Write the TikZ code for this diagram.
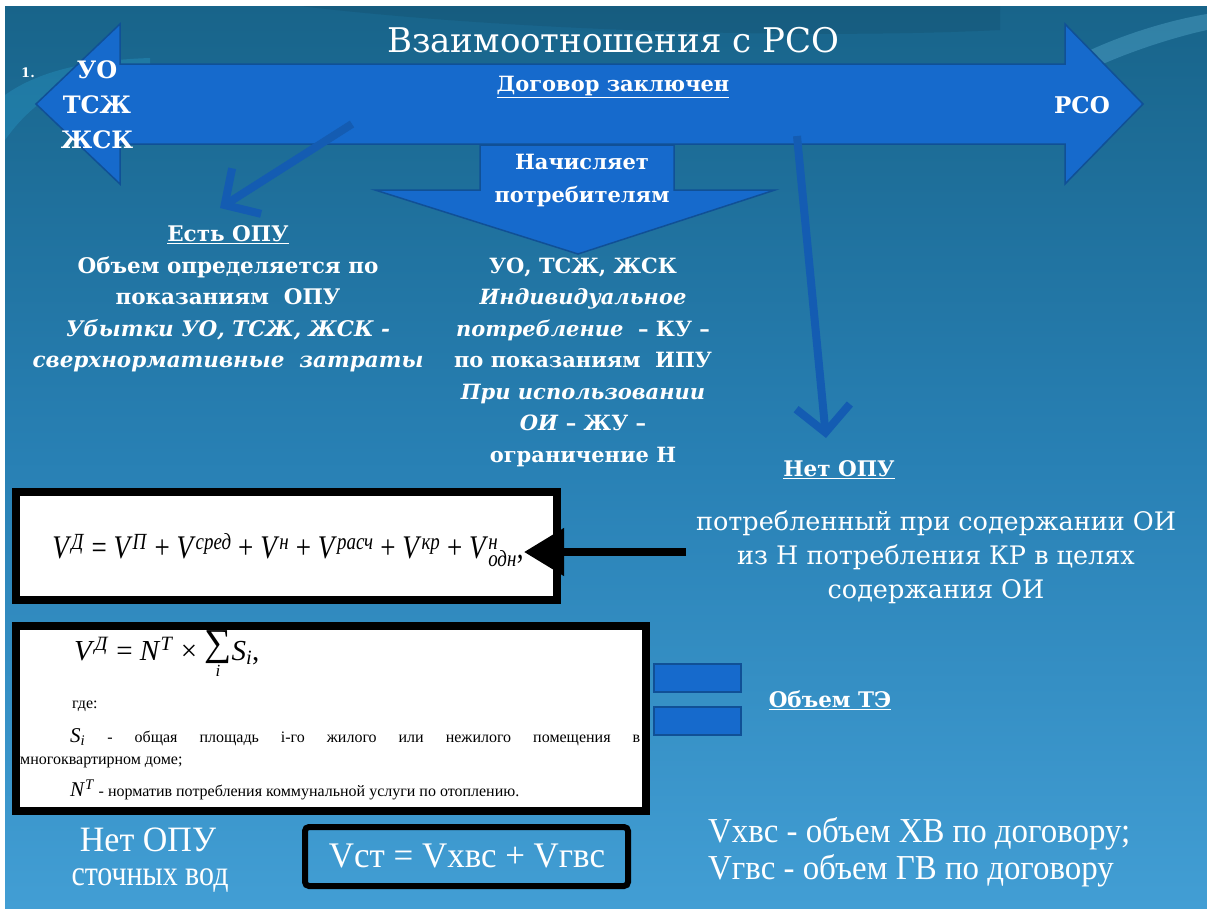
\documentclass[tikz,border=0pt]{standalone}
\usepackage{fontspec}
\usepackage{graphicx}
\setmainfont{Liberation Serif}
\newfontfamily\djv{DejaVu Serif}
\usetikzlibrary{arrows.meta}
\definecolor{bgtop}{RGB}{24,100,138}
\definecolor{bgmid}{RGB}{40,128,180}
\definecolor{bgbot}{RGB}{66,158,212}
\definecolor{arrowblue}{RGB}{22,106,204}
\definecolor{arrowedge}{RGB}{16,80,150}
\definecolor{thinblue}{RGB}{20,92,178}
\newcommand\vsup[2]{\textit{#1}\textsuperscript{\textit{#2}}}
\begin{document}
\begin{tikzpicture}[x=1pt,y=-1pt,
  bigarrow/.style={fill=arrowblue, draw=arrowedge, line width=1.5pt, line join=miter},
  thinarrow/.style={draw=thinblue, line width=8pt, -{Straight Barb[length=26pt,width=54pt]}},
  wtext/.style={text=white, align=center, inner sep=0pt},
  boldtxt/.style={wtext, font=\djv\bfseries\fontsize{21.5}{31.5}\selectfont},
  formbox/.style={draw=black, line width=8pt, fill=white},
  smallbox/.style={fill=arrowblue, draw=arrowedge, line width=1.5pt}
]
\useasboundingbox (0,0) rectangle (1207,908);
% background
\fill[white] (0,0) rectangle (1207,908);
\shade[top color=bgtop, bottom color=bgbot, middle color=bgmid] (5,6) rectangle (1207,908);
% decorative swooshes
\fill[cyan!60!teal, opacity=0.35] (5,95) .. controls (40,70) and (90,60) .. (150,58) -- (150,66) .. controls (90,70) and (40,90) .. (5,140) -- cycle;
\fill[cyan!50!white, opacity=0.25] (1080,55) .. controls (1120,35) and (1170,20) .. (1207,14) -- (1207,30) .. controls (1170,38) and (1120,55) .. (1090,70) -- cycle;
\fill[black, opacity=0.08] (300,6) .. controls (500,30) and (800,40) .. (1000,30) -- (1000,6) -- cycle;

% main double arrow
\draw[bigarrow] (36,104) -- (120,24) -- (120,64) -- (1065,64) -- (1065,24) -- (1143,104)
   -- (1065,184) -- (1065,144) -- (120,144) -- (120,184) -- cycle;
% down block arrow
\draw[bigarrow] (480,145) -- (674,145) -- (674,190) -- (775,190) -- (578,254) -- (375,190) -- (480,190) -- cycle;

% thin arrows
\coordinate (la1) at (352,124);
\coordinate (la2) at (220,208);
\coordinate (ra1) at (797,136);
\coordinate (ra2) at (826,438);
\draw[thinarrow] (la1) -- (la2);
\draw[thinarrow] (ra1) -- (ra2);

% title and arrow labels
\node[wtext, font=\djv\fontsize{34}{40}\selectfont] (title) at (613,40) {Взаимоотношения с РСО};
\node[wtext, font=\djv\bfseries\fontsize{13}{16}\selectfont] (num) at (28,73) {1.};
\node[boldtxt, font=\djv\bfseries\fontsize{24}{35}\selectfont] (left) at (97,105) {УО\\ТСЖ\\ЖСК};
\node[boldtxt, font=\djv\bfseries\fontsize{21}{24}\selectfont] (dog) at (613,87) {\underline{Договор заключен}};
\node[boldtxt, font=\djv\bfseries\fontsize{23}{28}\selectfont] (rso) at (1082,105) {РСО};
\node[boldtxt, font=\djv\bfseries\fontsize{21}{33}\selectfont] (nach) at (582,181) {Начисляет\\потребителям};

% left column
\node[boldtxt] (opu) at (228,299) {\underline{Есть ОПУ}\\Объем определяется по\\показаниям~~ОПУ\\\textit{Убытки УО, ТСЖ, ЖСК -}\\\textit{сверхнормативные~~затраты}};
% center column
\node[boldtxt, font=\djv\bfseries\fontsize{21}{31.5}\selectfont] (cent) at (583,362) {УО, ТСЖ, ЖСК\\\textit{Индивидуальное}\\\textit{потребление}~~– КУ –\\по показаниям~~ИПУ\\\textit{При использовании}\\\textit{ОИ} – ЖУ –\\ограничение Н};

% right texts
\node[boldtxt] (net) at (839,470) {\underline{Нет ОПУ}};
\node[wtext, font=\djv\fontsize{25.5}{34}\selectfont] (potr) at (936,557) {потребленный при содержании ОИ\\из Н потребления КР в целях\\содержания ОИ};
\node[boldtxt] (obem) at (830,700) {\underline{Объем ТЭ}};

% formula box 1
\draw[formbox] (16,492) rectangle (557,600);
\node[inner sep=0pt, font=\fontsize{33}{40}\selectfont] (f1) at (288,550)
 {\scalebox{0.82}[1]{\vsup{V}{Д} = \vsup{V}{П} + \vsup{V}{сред} + \vsup{V}{н} + \vsup{V}{расч} + \vsup{V}{кр} + \textit{V}\makebox[0pt][l]{\textsuperscript{\textit{н}}}\textsubscript{\textit{одн}},}};
\coordinate (ba1) at (686,552);
\coordinate (ba2) at (524,552);
\draw[line width=8pt, -{Triangle[length=40pt,width=46pt]}] (ba1) -- (ba2);

% formula box 2
\draw[formbox] (16,626) rectangle (646,811);
\node[anchor=base west, inner sep=0pt, font=\fontsize{29}{30}\selectfont] (f2) at (74,660)
 {\vsup{V}{Д} = \vsup{N}{T} × \raisebox{-16pt}{\shortstack{{\fontsize{38}{38}\selectfont ∑}\\[-2pt]{\fontsize{17}{17}\selectfont\textit{i}}}}\textit{S}\textsubscript{\textit{i}},};
\node[anchor=west, inner sep=0pt, font=\fontsize{16}{18}\selectfont] (gde) at (72,706) {где:};
\node[anchor=west, inner sep=0pt, font=\fontsize{16}{18}\selectfont] (l1) at (70,737)
 {\makebox[570pt][s]{{\fontsize{21}{21}\selectfont\textit{S}\textsubscript{\textit{i}}} - общая площадь i-го жилого или нежилого помещения в}};
\node[anchor=west, inner sep=0pt, font=\fontsize{16}{18}\selectfont] (l2) at (20,762) {многоквартирном доме;};
\node[anchor=west, inner sep=0pt, font=\fontsize{16}{18}\selectfont] (l3) at (70,790)
 {{\fontsize{21}{21}\selectfont\vsup{N}{T}} - норматив потребления коммунальной услуги по отоплению.};

% small blue boxes
\draw[smallbox] (654,664) rectangle (741,692);
\draw[smallbox] (654,707) rectangle (741,735);

% bottom
\node[wtext, font=\fontsize{34}{34}\selectfont] (netst1) at (148,840) {\scalebox{1.0}[1.05]{Нет ОПУ}};
\node[wtext, font=\fontsize{34}{34}\selectfont] (netst2) at (150,881) {\scalebox{0.88}[1.05]{сточных вод}};
\draw[black, line width=6pt, rounded corners=4pt] (305,827) rectangle (628,886);
\node[wtext, font=\fontsize{36}{36}\selectfont] (vst) at (467,856) {\scalebox{0.97}[1]{Vст = Vхвс + Vгвс}};
\node[wtext, anchor=west, font=\fontsize{35}{35}\selectfont] (vdef1) at (708,834) {\scalebox{0.94}[1]{Vхвс - объем ХВ по договору;}};
\node[wtext, anchor=west, font=\fontsize{35}{35}\selectfont] (vdef2) at (708,871) {\scalebox{0.94}[1]{Vгвс - объем ГВ по договору}};
\end{tikzpicture}
\end{document}
